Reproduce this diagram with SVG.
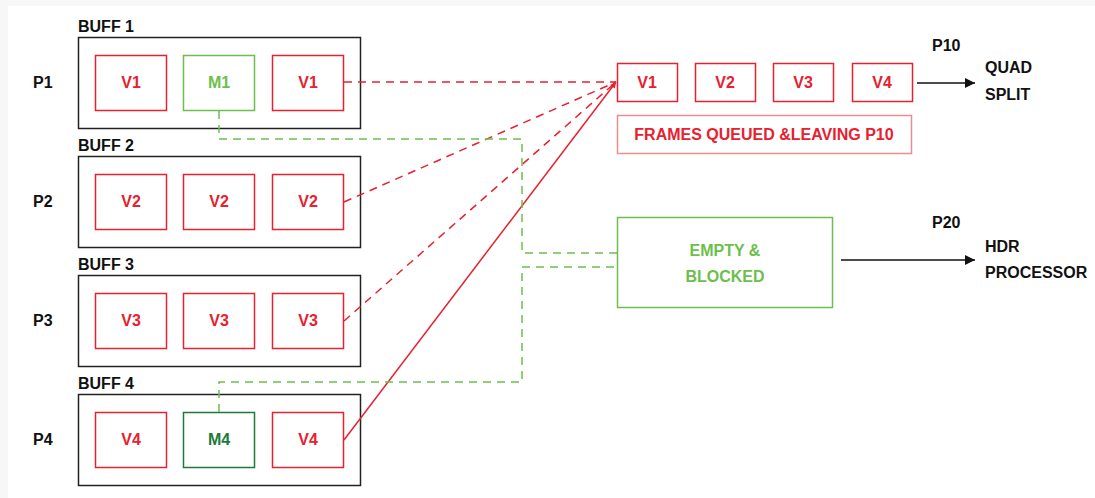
<svg xmlns="http://www.w3.org/2000/svg" width="1095" height="498" viewBox="0 0 1095 498">
<defs>
<style>
text{font-family:"Liberation Sans",Arial,sans-serif;font-weight:bold;}
.lbl{font-size:16px;fill:#111;}
.buf{fill:none;stroke:#222;stroke-width:1.5;}
.v{fill:#fff;stroke:#e8202f;stroke-width:1.5;}
.vt{font-size:16px;fill:#e8202f;text-anchor:middle;}
.m{fill:#fff;stroke:#6cbf4c;stroke-width:1.5;}
.mt{font-size:16px;fill:#6cbf4c;text-anchor:middle;}
.rd{fill:none;stroke:#e8202f;stroke-width:1.5;stroke-dasharray:8,6;}
.rs{fill:none;stroke:#e8202f;stroke-width:1.5;}
.gd{fill:none;stroke:#6cbf4c;stroke-width:1.5;stroke-dasharray:8,6;}
.ar{fill:none;stroke:#111;stroke-width:1.5;}
</style>
<marker id="ah" viewBox="0 0 10 10" refX="10" refY="5" markerWidth="16" markerHeight="10" orient="auto" markerUnits="userSpaceOnUse">
<path d="M0,0 L10,5 L0,10 z" fill="#111"/>
</marker>
<marker id="rh" viewBox="0 0 10 10" refX="10" refY="5" markerWidth="7" markerHeight="6" orient="auto" markerUnits="userSpaceOnUse">
<path d="M0,0 L10,5 L0,10 z" fill="#e8202f"/>
</marker>
</defs>
<rect x="0" y="0" width="1095" height="498" fill="#f7f7f7"/>
<rect x="8" y="6" width="1087" height="492" fill="#fff"/>

<g id="buff1">
<text class="lbl" x="78" y="32">BUFF 1</text>
<rect class="buf" x="78.5" y="37.5" width="282" height="91"/>
<text class="lbl" x="33" y="88">P1</text>
<rect class="v" x="95.5" y="55.5" width="71" height="55"/><text class="vt" x="131" y="88">V1</text>
<rect class="m" x="183.5" y="55.5" width="71" height="55"/><text class="mt" x="219" y="88">M1</text>
<rect class="v" x="272.5" y="55.5" width="71" height="55"/><text class="vt" x="308" y="88">V1</text>
</g>
<g id="buff2">
<text class="lbl" x="78" y="151">BUFF 2</text>
<rect class="buf" x="78.5" y="156.5" width="282" height="91"/>
<text class="lbl" x="33" y="207">P2</text>
<rect class="v" x="95.5" y="174.5" width="71" height="55"/><text class="vt" x="131" y="207">V2</text>
<rect class="v" x="183.5" y="174.5" width="71" height="55"/><text class="vt" x="219" y="207">V2</text>
<rect class="v" x="272.5" y="174.5" width="71" height="55"/><text class="vt" x="308" y="207">V2</text>
</g>
<g id="buff3">
<text class="lbl" x="78" y="270">BUFF 3</text>
<rect class="buf" x="78.5" y="275.5" width="282" height="91"/>
<text class="lbl" x="33" y="326">P3</text>
<rect class="v" x="95.5" y="293.5" width="71" height="55"/><text class="vt" x="131" y="326">V3</text>
<rect class="v" x="183.5" y="293.5" width="71" height="55"/><text class="vt" x="219" y="326">V3</text>
<rect class="v" x="272.5" y="293.5" width="71" height="55"/><text class="vt" x="308" y="326">V3</text>
</g>
<g id="buff4">
<text class="lbl" x="78" y="389">BUFF 4</text>
<rect class="buf" x="78.5" y="394.5" width="282" height="91"/>
<text class="lbl" x="33" y="445">P4</text>
<rect class="v" x="95.5" y="412.5" width="71" height="55"/><text class="vt" x="131" y="445">V4</text>
<rect x="183.5" y="412.5" width="71" height="55" fill="#fff" stroke="#1e7a3a" stroke-width="1.5"/><text x="219" y="445" font-size="16" fill="#1e7a3a" text-anchor="middle">M4</text>
<rect class="v" x="272.5" y="412.5" width="71" height="55"/><text class="vt" x="308" y="445">V4</text>
</g>

<g id="connectors">
<path class="rd" d="M344,82 L616,82"/>
<path class="rd" d="M344,202 L616,82"/>
<path class="rd" d="M344,321 L616,82"/>
<path class="rs" d="M344,440 L616,82" marker-end="url(#rh)"/>
<path class="gd" d="M219,111 V139 H522 V253 H617"/>
<path class="gd" d="M219,412 V382 H522 V267 H617"/>
<path class="ar" d="M917,83 H975" marker-end="url(#ah)"/>
<path class="ar" d="M841,260 H975" marker-end="url(#ah)"/>
</g>

<g id="queue">
<rect class="v" x="617.5" y="63.5" width="60" height="38"/><text class="vt" x="647" y="88">V1</text>
<rect class="v" x="695.5" y="63.5" width="60" height="38"/><text class="vt" x="725" y="88">V2</text>
<rect class="v" x="773.5" y="63.5" width="60" height="38"/><text class="vt" x="803" y="88">V3</text>
<rect class="v" x="852.5" y="63.5" width="60" height="38"/><text class="vt" x="882" y="88">V4</text>
</g>
<g id="frames">
<rect x="617.5" y="115.5" width="294" height="38" fill="#fff" stroke="#f08a90" stroke-width="1.5"/>
<text class="vt" x="764" y="140">FRAMES QUEUED &amp;LEAVING P10</text>
</g>
<g id="empty">
<rect class="m" x="617.5" y="217.5" width="215" height="90"/>
<text class="mt" x="725" y="256">EMPTY &amp;</text>
<text class="mt" x="725" y="282">BLOCKED</text>
</g>
<g id="p10">
<text class="lbl" x="932" y="51">P10</text>
<text class="lbl" x="985" y="73">QUAD</text>
<text class="lbl" x="985" y="100">SPLIT</text>
</g>
<g id="p20">
<text class="lbl" x="932" y="228">P20</text>
<text class="lbl" x="985" y="252">HDR</text>
<text class="lbl" x="985" y="278">PROCESSOR</text>
</g>
</svg>
